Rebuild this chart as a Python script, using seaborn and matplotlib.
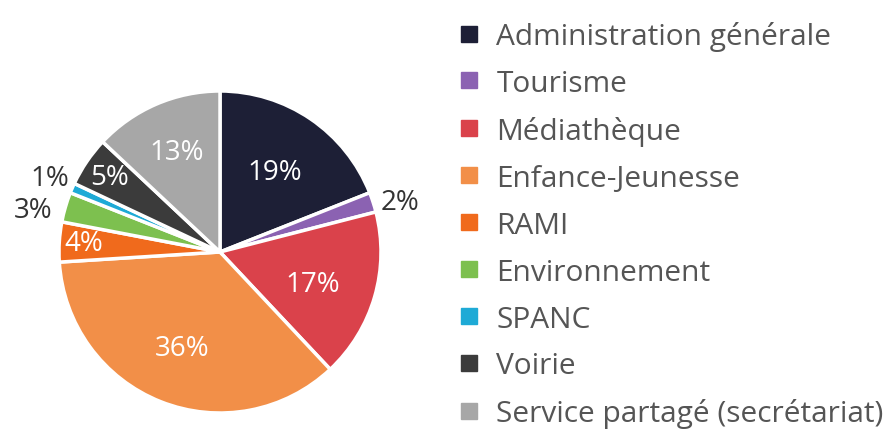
import numpy as np
import seaborn as sns
import matplotlib.pyplot as plt
from matplotlib.lines import Line2D

sns.set_theme(style="white")
plt.rcParams['font.family'] = ['Open Sans', 'DejaVu Sans']

services = ['Administration générale', 'Tourisme', 'Médiathèque', 'Enfance-Jeunesse',
            'RAMI', 'Environnement', 'SPANC', 'Voirie', 'Service partagé (secrétariat)']
shares = [19, 2, 17, 36, 4, 3, 1, 5, 13]
colors = ['#1d1f36', '#8b62b2', '#da424b', '#f28f48', '#f06a1c',
          '#7dc04f', '#1eaad6', '#3b3b3b', '#a7a7a7']
# label distance (fraction of radius), small angle nudge (deg), outside labels in dark text
label_dist = [0.60, 1.16, 0.61, 0.64, 0.85, 1.19, 1.15, 0.83, 0.68]
label_nudge = [0, -2.5, -3, 0, 0, 3.5, 0, 0, 0]
outside = [False, True, False, False, False, True, True, False, False]

W, H = 883, 431
fig = plt.figure(figsize=(W / 100, H / 100), dpi=100)

# pie: centre (220, 253) px, radius 161 px, axes limits +-1.3
R = 161
lim = 1.3
cx, cy = 220, 253
ax = fig.add_axes([(cx - R * lim) / W, (H - cy - R * lim) / H, 2 * R * lim / W, 2 * R * lim / H])

wedges, _ = ax.pie(shares, colors=colors, startangle=90, counterclock=False,
                   wedgeprops=dict(edgecolor='white', linewidth=2.5))
ax.set_xlim(-lim, lim)
ax.set_ylim(-lim, lim)
ax.set_aspect('equal')
ax.axis('off')

for w, val, d, nd, out in zip(wedges, shares, label_dist, label_nudge, outside):
    mid = np.deg2rad((w.theta1 + w.theta2) / 2 + nd)
    ax.text(d * np.cos(mid), d * np.sin(mid), f'{val}%', ha='center', va='center',
            fontsize=20, color='#333333' if out else 'white')

handles = [Line2D([], [], marker='s', linestyle='none', markersize=11,
                  markerfacecolor=c, markeredgecolor=c) for c in colors]
fig.legend(handles, services, loc='upper left', bbox_to_anchor=(456 / W, 1 - 22 / H),
           frameon=False, fontsize=21.5, labelcolor='#555555', handlelength=0.9,
           handletextpad=0.45, labelspacing=0.6, borderaxespad=0, borderpad=0)

fig.savefig('out.png', dpi=100, facecolor='white')
